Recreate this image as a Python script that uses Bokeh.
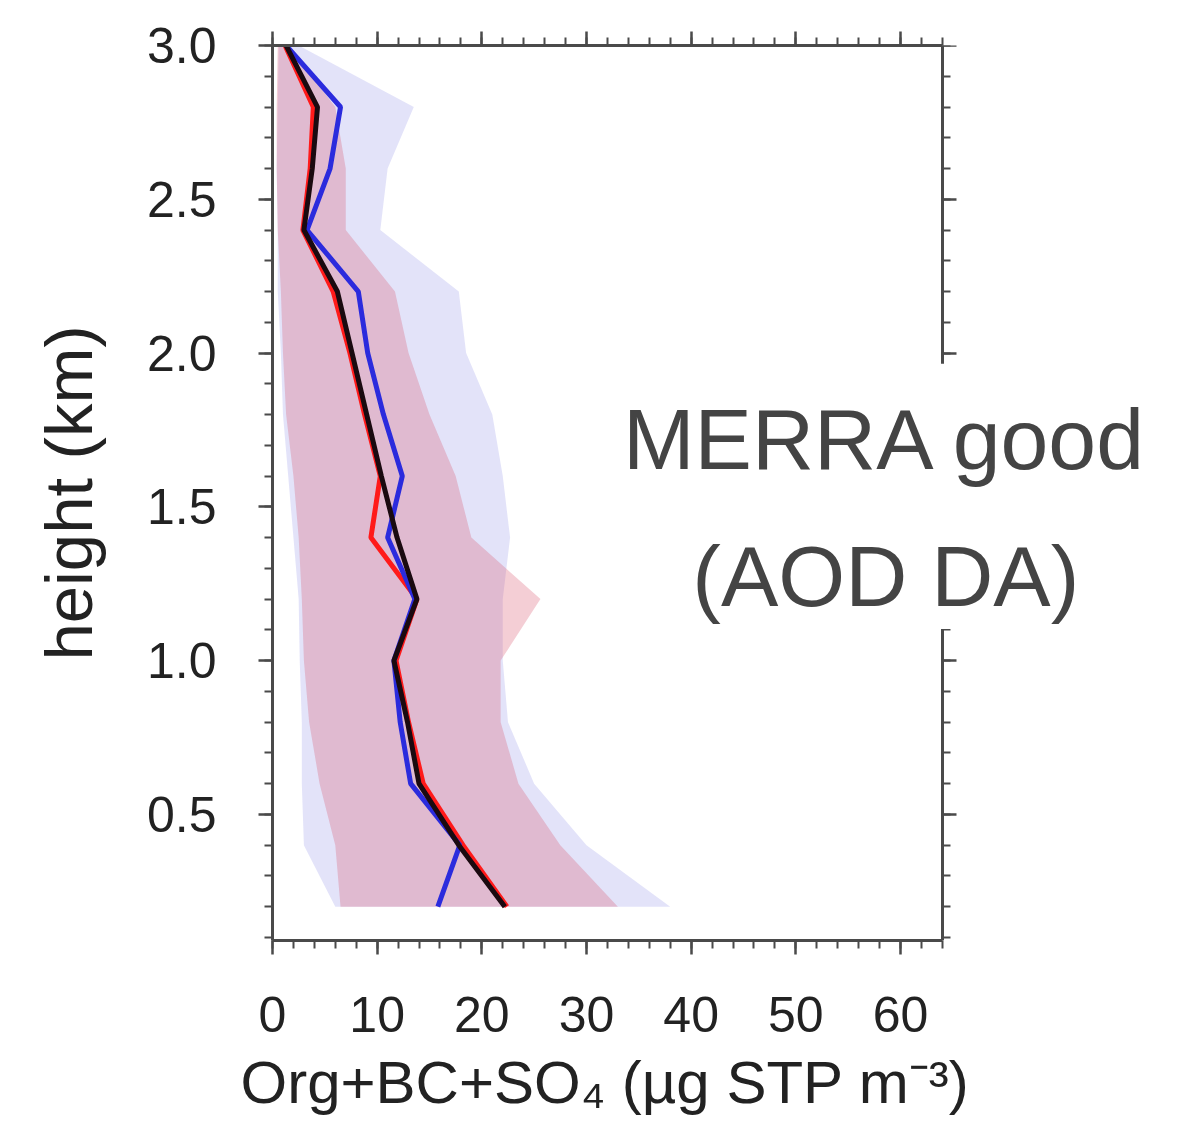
from bokeh.plotting import figure
from bokeh.models import (Range1d, SingleIntervalTicker, LinearAxis, Label, Title,
                          PrintfTickFormatter)
from bokeh.embed import file_html
from bokeh.resources import INLINE

# ---- data ----
heights = [0.2, 0.4, 0.6, 0.8, 1.0, 1.2, 1.4, 1.6, 1.8, 2.0, 2.2, 2.4, 2.6, 2.8, 3.0]
obs_black = [22.2, 17.8, 14.0, 12.9, 11.6, 13.8, 11.9, 10.4, 9.0, 7.6, 6.2, 3.0, 3.8, 4.3, 1.3]
model_red = [22.4, 18.2, 14.4, 13.0, 11.8, 13.8, 9.4, 10.3, 8.8, 7.4, 5.8, 2.9, 3.6, 3.9, 1.2]
model_blue = [15.8, 17.9, 13.2, 12.2, 11.6, 13.6, 11.0, 12.4, 10.6, 9.1, 8.2, 3.3, 5.5, 6.5, 1.3]

blue_lo = [6.0, 3.0, 2.8, 2.8, 2.6, 2.5, 2.0, 1.5, 1.0, 0.8, 0.5, 0.5, 0.4, 0.5, 0.6]
blue_hi = [38.0, 30.0, 25.0, 22.5, 22.0, 22.0, 22.7, 22.0, 21.0, 18.5, 17.8, 10.3, 11.0, 13.5, 2.5]
red_lo = [6.5, 6.0, 4.5, 3.5, 3.0, 2.8, 2.5, 2.0, 1.3, 1.0, 0.8, 0.5, 0.4, 0.4, 0.5]
red_hi = [33.0, 27.5, 23.5, 21.8, 21.8, 25.6, 19.0, 17.5, 15.0, 13.0, 11.7, 7.0, 7.0, 6.0, 1.5]

x_axis_max = 64          # right edge of the axis box
x_label = "Org+BC+SO\u2084 (\u00b5g STP m\u207b\u00b3)"
y_label = "height (km)"
note_text = "MERRA good\n(AOD DA)"

FONT = "Liberation Sans"
AX = "#4a4a4a"

p = figure(width=1170, height=1146, output_backend="svg", toolbar_location=None,
           x_range=Range1d(0, 85.8), y_range=Range1d(0.09, 3.0),
           x_axis_type=None, y_axis_type=None,
           min_border_left=272, min_border_right=0,
           min_border_top=45, min_border_bottom=206)
p.outline_line_color = None
p.grid.visible = False
p.background_fill_color = "white"
p.border_fill_color = "white"

xt = SingleIntervalTicker(interval=10, num_minor_ticks=5)
yt = SingleIntervalTicker(interval=0.5, num_minor_ticks=5)


def style(ax, show_labels):
    ax.axis_line_color = AX
    ax.axis_line_width = 3
    ax.major_tick_line_color = AX
    ax.minor_tick_line_color = AX
    ax.major_tick_line_width = 2.5
    ax.minor_tick_line_width = 2
    ax.major_tick_out = 14
    ax.major_tick_in = 0
    ax.minor_tick_out = 8
    ax.minor_tick_in = 0
    ax.major_label_text_font = FONT
    ax.axis_label_text_font = FONT
    ax.axis_label_text_font_style = "normal"
    ax.axis_label_text_color = "#222222"
    if show_labels:
        ax.major_label_text_font_size = "50px"
        ax.major_label_text_color = "#222222"
    else:
        # mirror axis: ticks only, no tick labels drawn
        ax.major_label_text_font_size = "0px"
        ax.major_label_text_color = None
        ax.major_label_standoff = 0


xb = LinearAxis(ticker=xt, bounds=(0, x_axis_max))
style(xb, True)
xb.major_label_standoff = 42
p.add_layout(xb, "below")

yl = LinearAxis(ticker=yt, axis_label=y_label, formatter=PrintfTickFormatter(format="%.1f"))
style(yl, True)
yl.axis_label_text_font_size = "67px"
yl.major_label_standoff = 42
yl.axis_label_standoff = 38
p.add_layout(yl, "left")

xa = LinearAxis(ticker=xt, bounds=(0, x_axis_max))
style(xa, False)
p.add_layout(xa, "above")

yr = LinearAxis(ticker=yt, fixed_location=x_axis_max)
style(yr, False)
p.add_layout(yr, "right")

# x-axis title, placed under the 0..64 axis box
xtitle = Title(text=x_label, align="left", offset=-32, standoff=24,
               text_font=FONT, text_font_size="60px", text_font_style="normal",
               text_color="#222222")
p.add_layout(xtitle, "below")

# shaded ranges
p.harea(x1=blue_lo, x2=blue_hi, y=heights, fill_color="#6464dc", fill_alpha=0.18)
p.harea(x1=red_lo, x2=red_hi, y=heights, fill_color="#d85068", fill_alpha=0.28)

# profiles
p.line(model_red, heights, line_color="#ff1a1a", line_width=5)
p.line(model_blue, heights, line_color="#2b2bdd", line_width=5)
p.line(obs_black, heights, line_color="#1a0a10", line_width=5)

note = Label(x=58.6, y=1.534, text=note_text, text_align="center", text_baseline="middle",
             text_font=FONT, text_font_size="86px", text_color="#444444",
             text_line_height=1.43,
             background_fill_color="white", background_fill_alpha=1.0,
             padding=(18, 18, 27, 5))
p.add_layout(note)

open("out.html", "w").write(file_html(p, INLINE))
